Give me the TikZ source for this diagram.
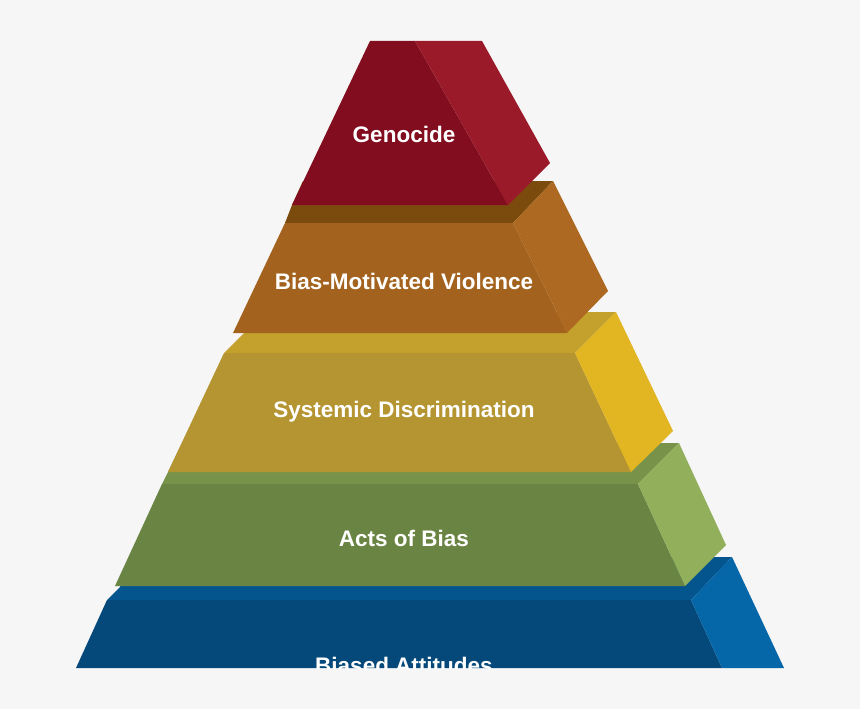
\documentclass[tikz,border=0pt]{standalone}
\usepackage{fontspec}
\setmainfont{Liberation Sans}
\definecolor{bgc}{HTML}{F6F6F6}
\definecolor{redF}{HTML}{820D1E}
\definecolor{redR}{HTML}{9A1A2A}
\definecolor{oraT}{HTML}{7B4B0D}
\definecolor{oraF}{HTML}{A3631E}
\definecolor{oraR}{HTML}{AD6922}
\definecolor{yelT}{HTML}{C4A02C}
\definecolor{yelF}{HTML}{B59531}
\definecolor{yelR}{HTML}{E2B523}
\definecolor{grnT}{HTML}{789349}
\definecolor{grnF}{HTML}{6A8443}
\definecolor{grnR}{HTML}{92AF5C}
\definecolor{bluT}{HTML}{04548D}
\definecolor{bluF}{HTML}{04497A}
\definecolor{bluR}{HTML}{0567A8}
\begin{document}
\begin{tikzpicture}[x=1pt,y=-1pt,
  lab/.style={text=white,font=\bfseries\fontsize{22.5}{27}\selectfont,anchor=base,inner sep=0pt}]
\useasboundingbox (0,0) rectangle (860,709);
\fill[bgc] (0,0) rectangle (860,709);
% Blue (clipped at bottom)
\begin{scope}
\clip (0,0) rectangle (860,668);
\fill[bluT] (107,600) -- (120,587) -- (130,557) -- (732,557) -- (691,600) -- cycle;
\fill[bluF] (107,600) -- (691,600) -- (722,668) -- (76,668) -- cycle;
\fill[bluR] (691,600) -- (732,557) -- (784,668) -- (722,668) -- cycle;
\node[lab] (ba) at (404,673) {Biased Attitudes};
\end{scope}
% Green
\fill[grnT] (162,484) -- (168,472) -- (182,443) -- (679,443) -- (638,484) -- cycle;
\fill[grnF] (162,484) -- (638,484) -- (685,586) -- (115,586) -- cycle;
\fill[grnR] (638,484) -- (679,443) -- (726,545) -- (685,586) -- cycle;
% Yellow
\fill[yelT] (224,353) -- (244,333) -- (254,312) -- (616,312) -- (575,353) -- cycle;
\fill[yelF] (224,353) -- (575,353) -- (631,472) -- (168,472) -- cycle;
\fill[yelR] (575,353) -- (616,312) -- (673,431) -- (631,472) -- cycle;
% Orange
\fill[oraT] (285,223) -- (292,205) -- (303,181) -- (553,181) -- (513,223) -- cycle;
\fill[oraF] (285,223) -- (513,223) -- (567,333) -- (233,333) -- cycle;
\fill[oraR] (513,223) -- (553,181) -- (608,291) -- (567,333) -- cycle;
% Red
\fill[redF] (370,41) -- (415,41) -- (508,205) -- (292,205) -- cycle;
\fill[redR] (415,41) -- (482,41) -- (550,163) -- (508,205) -- cycle;
% Labels
\node[lab] (gen) at (404,142) {Genocide};
\node[lab] (bmv) at (404,289) {Bias-Motivated Violence};
\node[lab] (sd) at (404,417) {Systemic Discrimination};
\node[lab] (aob) at (404,546) {Acts of Bias};
\end{tikzpicture}
\end{document}
